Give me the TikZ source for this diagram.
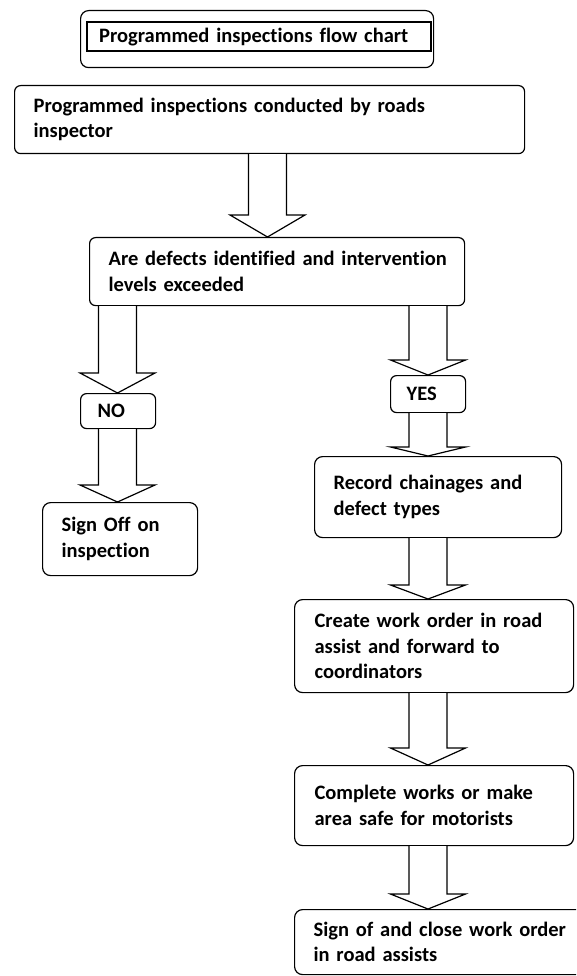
\documentclass[tikz,border=0pt]{standalone}
\usepackage{fontspec}
\setmainfont{Carlito}[Ligatures=NoCommon]
\usetikzlibrary{calc}
\newcommand{\barrow}[4]{%
  \draw[blockarrow] ($(#1.south -| #3)+(-19,0)$) -- ($(#2.north -| #3)+(-19,#4)$)
    -- ($(#2.north -| #3)+(-37.5,#4)$) -- (#2.north -| #3)
    -- ($(#2.north -| #3)+(37.5,#4)$) -- ($(#2.north -| #3)+(19,#4)$)
    -- ($(#1.south -| #3)+(19,0)$);}
\tikzset{
  boxfont/.style={font=\bfseries\fontsize{20.5}{25.5}\selectfont},
  flowbox/.style={draw, line width=1.2pt, rounded corners=6pt, align=left,
    inner xsep=19pt, inner ysep=0pt, anchor=north west, boxfont},
  blockarrow/.style={draw, line width=1.2pt, fill=white, line join=miter},
}
\begin{document}
\begin{tikzpicture}[x=1pt,y=1pt]
\useasboundingbox (0,0) rectangle (576,-976);
\fill[white] (0,0) rectangle (576,-976);
\clip (0,0) rectangle (576,-976);

% title
\node[draw, line width=1.2pt, rounded corners=8pt, minimum width=353pt,
  minimum height=57pt, inner sep=0pt, anchor=north west] (titleframe) at (80,-10) {};
\node[draw, line width=2.4pt, anchor=north west, align=left, inner xsep=12pt,
  inner ysep=0pt, text width=320pt, minimum height=29pt, boxfont] (title) at (86,-21)
  {\mbox{Programmed inspections flow chart}};

% boxes
\node[flowbox, text width=472pt, minimum height=68pt] (inspect) at (14,-85)
  {\mbox{Programmed inspections conducted by roads}\\inspector};
\node[flowbox, text width=337pt, minimum height=68pt] (defects) at (89,-237)
  {\mbox{Are defects identified and intervention}\\\mbox{levels exceeded}};
\node[flowbox, inner xsep=17pt, text width=41pt, minimum height=35pt] (no) at (80,-393)
  {NO};
\node[flowbox, rounded corners=8pt, text width=117pt, minimum height=73pt] (signoff) at (42,-502)
  {\mbox{Sign Off on}\\inspection};
\node[flowbox, inner xsep=16pt, text width=43pt, minimum height=37pt] (yes) at (390,-375)
  {YES};
\node[flowbox, rounded corners=8pt, text width=209pt, minimum height=81pt] (record) at (314,-456)
  {\mbox{Record chainages and}\\\mbox{defect types}};
\node[flowbox, rounded corners=8pt, inner xsep=20pt, text width=239pt, minimum height=93pt] (create) at (294,-599)
  {\mbox{Create work order in road}\\\mbox{assist and forward to}\\coordinators};
\node[flowbox, rounded corners=8pt, inner xsep=20pt, text width=239pt, minimum height=80pt] (complete) at (294,-765)
  {\mbox{Complete works or make}\\\mbox{area safe for motorists}};
\node[flowbox, rounded corners=8pt, inner xsep=19pt, text width=262pt, minimum height=65pt] (signof) at (294,-909)
  {\mbox{Sign of and close work order}\\\mbox{in road assists}};

% arrow columns
\coordinate (cMain) at (267.5,0);
\coordinate (cL) at (117.5,0);
\coordinate (cR) at (428,0);

% block arrows
\barrow{inspect}{defects}{cMain}{22}
\barrow{defects}{no}{cL}{20}
\barrow{no}{signoff}{cL}{17}
\barrow{defects}{yes}{cR}{15}
\barrow{yes}{record}{cR}{9}
\barrow{record}{create}{cR}{14}
\barrow{create}{complete}{cR}{17}
\barrow{complete}{signof}{cR}{15}
\end{tikzpicture}
\end{document}
